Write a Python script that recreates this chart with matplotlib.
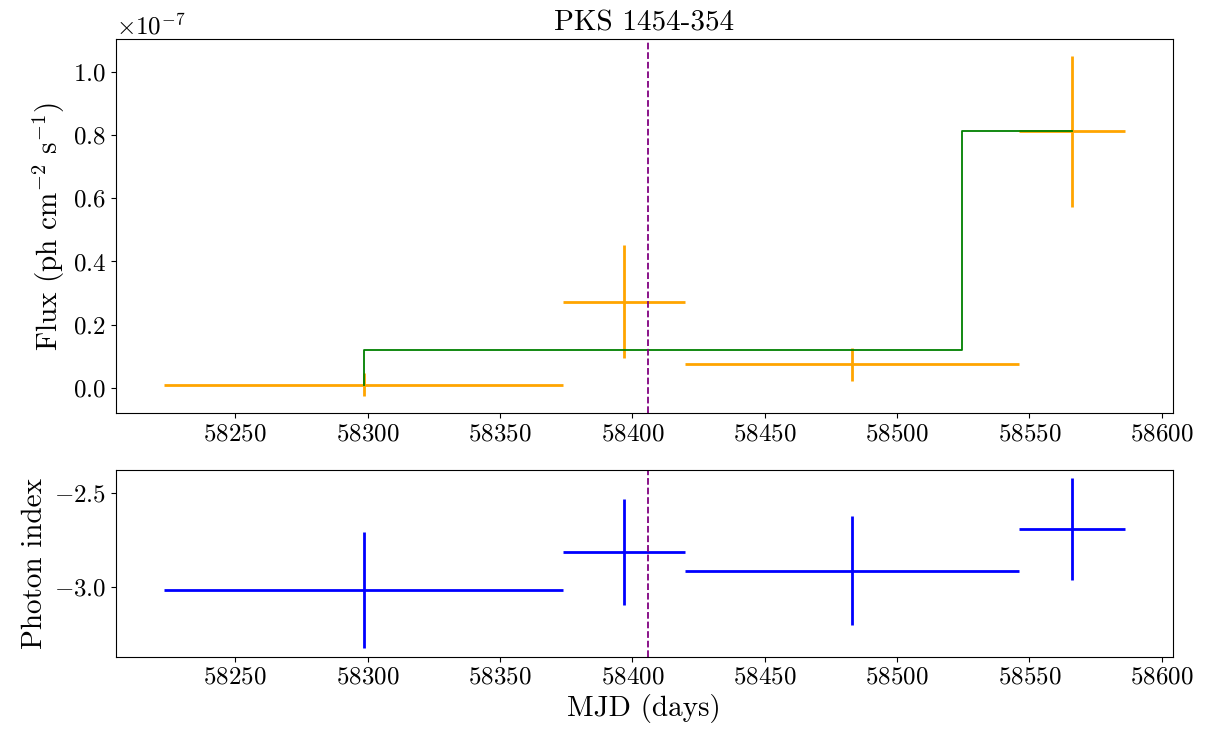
import matplotlib
matplotlib.use("Agg")
import matplotlib.pyplot as plt
import numpy as np

plt.rcParams["font.family"] = "serif"
plt.rcParams["font.serif"] = ["cmr10"]
plt.rcParams["mathtext.fontset"] = "cm"
plt.rcParams["axes.formatter.use_mathtext"] = True
plt.rcParams["axes.unicode_minus"] = True

# time bins (MJD)
bin_edges = np.array([58223, 58374, 58420, 58546, 58586])
# flux in units of 1e-7 ph cm^-2 s^-1
flux = np.array([0.011, 0.273, 0.076, 0.811])
flux_err = np.array([0.037, 0.179, 0.052, 0.238])
# photon index
index = np.array([-3.016, -2.815, -2.915, -2.691])
index_err = np.array([0.31, 0.28, 0.29, 0.27])
# green step (blocks)
block_x = [58298.5, 58298.5, 58524.5, 58566.0]
block_y = [0.011, 0.120, 0.811, 0.811]
# vertical marker
event_mjd = 58405.9

centers = 0.5 * (bin_edges[:-1] + bin_edges[1:])
half_width = 0.5 * (bin_edges[1:] - bin_edges[:-1])

fig, (ax1, ax2) = plt.subplots(
    2, 1, figsize=(12.11, 7.36), dpi=100, gridspec_kw={"height_ratios": [2, 1]}
)
fig.subplots_adjust(left=0.0955, right=0.9684, top=0.947, bottom=0.1077, hspace=0.2)

# Flux panel
ax1.errorbar(centers, flux * 1e-7, xerr=half_width, yerr=flux_err * 1e-7,
             fmt="none", ecolor="orange", elinewidth=2)
ax1.step(block_x, np.array(block_y) * 1e-7, where="post", color="green", lw=1.3)
ax1.axvline(event_mjd, color="purple", ls="--", lw=1.3)
ax1.set_ylabel(r"Flux (ph cm$^{-2}$ s$^{-1}$)", fontsize=21)
ax1.set_title("PKS 1454-354", fontsize=21)
ax1.yaxis.get_offset_text().set_fontsize(18)

# Photon index panel
ax2.errorbar(centers, index, xerr=half_width, yerr=index_err,
             fmt="none", ecolor="blue", elinewidth=2)
ax2.axvline(event_mjd, color="purple", ls="--", lw=1.3)
ax2.set_ylabel("Photon index", fontsize=21)
ax2.set_xlabel("MJD (days)", fontsize=21)
ax2.set_xlim(ax1.get_xlim())

for ax in (ax1, ax2):
    ax.tick_params(labelsize=18)

fig.savefig("out.png", dpi=100)
